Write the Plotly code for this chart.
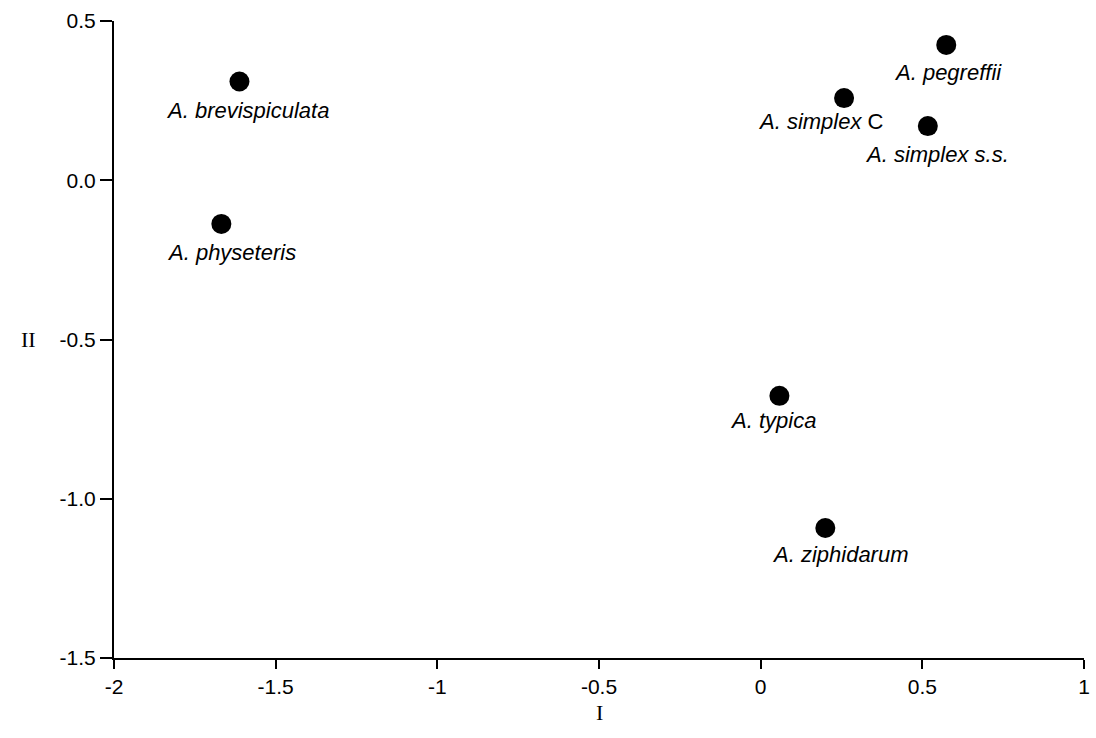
import plotly.graph_objects as go

# Data
species = ["<i>A. brevispiculata</i>", "<i>A. physeteris</i>", "<i>A. pegreffii</i>",
           "<i>A. simplex</i> C", "<i>A. simplex s.s.</i>", "<i>A. typica</i>",
           "<i>A. ziphidarum</i>"]
axis_I = [-1.612, -1.668, 0.574, 0.258, 0.517, 0.058, 0.200]
axis_II = [0.310, -0.137, 0.425, 0.258, 0.170, -0.677, -1.092]
x_ticks = [-2, -1.5, -1, -0.5, 0, 0.5, 1]
x_tick_labels = ["-2", "-1.5", "-1", "-0.5", "0", "0.5", "1"]
y_ticks = [0.5, 0.0, -0.5, -1.0, -1.5]
y_tick_labels = ["0.5", "0.0", "-0.5", "-1.0", "-1.5"]

# label pixel offsets (position only)
label_dx = [8, 10, 2, -23, 9, -6, 15]
label_dy = [-29, -29, -28, -23, -28, -25, -26]

fig = go.Figure()
fig.add_trace(go.Scatter(
    x=axis_I, y=axis_II, mode="markers",
    marker=dict(size=20, color="black"),
    cliponaxis=False, showlegend=False, hoverinfo="skip"))

for name, xv, yv, dx, dy in zip(species, axis_I, axis_II, label_dx, label_dy):
    fig.add_annotation(x=xv, y=yv, text=name, showarrow=False,
                       xshift=dx, yshift=dy,
                       font=dict(family="Liberation Sans, Arial", size=22, color="black"))

fig.add_annotation(x=-0.5, y=0, xref="x", yref="paper", yshift=-69, text="I",
                   showarrow=False,
                   font=dict(family="Liberation Serif, Times New Roman", size=22, color="black"))
fig.add_annotation(x=0, xref="paper", y=-0.5, yref="y", xshift=-95, text="II",
                   showarrow=False,
                   font=dict(family="Liberation Serif, Times New Roman", size=22, color="black"))

axis_font = dict(family="Liberation Sans, Arial", size=21, color="black")
fig.update_xaxes(range=[-2, 1], tickvals=x_ticks, ticktext=x_tick_labels,
                 showgrid=False, zeroline=False, showline=True, linecolor="black",
                 linewidth=2, ticks="outside", ticklen=9, tickwidth=2, tickcolor="black",
                 tickfont=axis_font)
fig.update_yaxes(range=[-1.5, 0.5], tickvals=y_ticks, ticktext=y_tick_labels,
                 showgrid=False, zeroline=False, showline=True, linecolor="black",
                 linewidth=2, ticks="outside", ticklen=12, tickwidth=2, tickcolor="black",
                 tickfont=axis_font)
fig.update_layout(width=1096, height=738, margin=dict(l=114, r=6, t=21, b=80),
                  plot_bgcolor="white", paper_bgcolor="white")
fig.write_html("out.html", config={"displayModeBar": False},
               post_script="document.body.style.margin='0';document.body.style.overflow='hidden';")
